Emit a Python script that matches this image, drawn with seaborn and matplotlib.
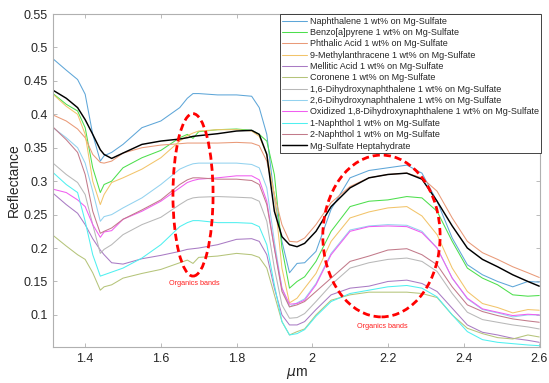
import numpy as np
import pandas as pd
import matplotlib
matplotlib.use("Agg")
import matplotlib.pyplot as plt
import seaborn as sns
from matplotlib.patches import Ellipse

# ---------------- data ----------------
wavelength = [1.315, 1.35, 1.38, 1.40, 1.42, 1.44, 1.45, 1.47, 1.50, 1.55,
              1.60, 1.65, 1.67, 1.685, 1.70, 1.75, 1.80, 1.84, 1.86, 1.88,
              1.90, 1.92, 1.94, 1.96, 1.98, 2.01, 2.05, 2.10, 2.15, 2.20,
              2.25, 2.29, 2.33, 2.37, 2.41, 2.45, 2.49, 2.53, 2.57, 2.60]

naphthalene = [0.483, 0.466, 0.452, 0.43, 0.37, 0.33, 0.338, 0.343, 0.355, 0.38,
               0.39, 0.41, 0.424, 0.431, 0.431, 0.429, 0.429, 0.427, 0.41, 0.37,
               0.275, 0.21, 0.163, 0.177, 0.178, 0.195, 0.258, 0.305, 0.316, 0.32,
               0.324, 0.312, 0.27, 0.215, 0.175, 0.16, 0.15, 0.142, 0.15, 0.149]
benzo_pyrene = [0.431, 0.415, 0.405, 0.38, 0.32, 0.283, 0.295, 0.30, 0.32, 0.335,
                0.346, 0.365, 0.37, 0.364, 0.374, 0.377, 0.378, 0.376, 0.37, 0.36,
                0.31, 0.20, 0.14, 0.15, 0.157, 0.18, 0.225, 0.262, 0.27, 0.272,
                0.277, 0.275, 0.255, 0.21, 0.17, 0.155, 0.145, 0.13, 0.128, 0.129]
phthalic_acid = [0.399, 0.39, 0.378, 0.365, 0.34, 0.328, 0.327, 0.33, 0.342, 0.35,
                 0.354, 0.356, 0.357, 0.357, 0.357, 0.357, 0.358, 0.357, 0.353, 0.33,
                 0.28, 0.235, 0.21, 0.209, 0.215, 0.235, 0.268, 0.292, 0.305, 0.31,
                 0.312, 0.305, 0.285, 0.245, 0.21, 0.193, 0.183, 0.172, 0.163, 0.156]
methylanthracene = [0.43, 0.412, 0.40, 0.37, 0.30, 0.265, 0.28, 0.298, 0.305, 0.318,
                    0.335, 0.36, 0.368, 0.372, 0.375, 0.377, 0.377, 0.375, 0.367, 0.34,
                    0.28, 0.17, 0.118, 0.125, 0.14, 0.162, 0.21, 0.245, 0.254, 0.26,
                    0.262, 0.248, 0.22, 0.17, 0.135, 0.117, 0.111, 0.103, 0.108, 0.107]
mellitic_acid = [0.282, 0.265, 0.252, 0.235, 0.214, 0.197, 0.19, 0.178, 0.176, 0.184,
                 0.189, 0.195, 0.198, 0.199, 0.20, 0.205, 0.213, 0.214, 0.21, 0.19,
                 0.14, 0.10, 0.085, 0.085, 0.09, 0.108, 0.13, 0.14, 0.143, 0.15,
                 0.152, 0.147, 0.135, 0.11, 0.085, 0.074, 0.07, 0.065, 0.062, 0.059]
coronene = [0.219, 0.203, 0.19, 0.183, 0.163, 0.137, 0.142, 0.145, 0.155, 0.162,
            0.168, 0.178, 0.182, 0.177, 0.186, 0.188, 0.192, 0.19, 0.186, 0.17,
            0.13, 0.09, 0.07, 0.075, 0.079, 0.10, 0.122, 0.13, 0.134, 0.134,
            0.134, 0.132, 0.126, 0.10, 0.08, 0.072, 0.066, 0.064, 0.07, 0.067]
dhn_16 = [0.327, 0.31, 0.298, 0.28, 0.235, 0.192, 0.198, 0.205, 0.22, 0.235,
          0.246, 0.265, 0.272, 0.275, 0.276, 0.277, 0.276, 0.275, 0.27, 0.24,
          0.17, 0.115, 0.095, 0.096, 0.102, 0.12, 0.145, 0.17, 0.178, 0.183,
          0.185, 0.18, 0.165, 0.132, 0.104, 0.093, 0.089, 0.085, 0.082, 0.079]
dhn_26 = [0.38, 0.365, 0.35, 0.327, 0.285, 0.24, 0.247, 0.25, 0.26, 0.275,
          0.295, 0.318, 0.323, 0.326, 0.327, 0.327, 0.327, 0.325, 0.32, 0.29,
          0.21, 0.14, 0.112, 0.118, 0.124, 0.147, 0.192, 0.227, 0.233, 0.235,
          0.234, 0.225, 0.20, 0.155, 0.124, 0.108, 0.103, 0.097, 0.10, 0.10]
oxidized_dhn_18 = [0.288, 0.283, 0.272, 0.262, 0.235, 0.216, 0.224, 0.226, 0.243, 0.255,
                   0.27, 0.29, 0.298, 0.301, 0.303, 0.305, 0.308, 0.308, 0.302, 0.27,
                   0.20, 0.14, 0.116, 0.117, 0.122, 0.145, 0.19, 0.225, 0.232, 0.233,
                   0.232, 0.223, 0.20, 0.155, 0.125, 0.109, 0.104, 0.099, 0.101, 0.10]
naphthol_1 = [0.313, 0.295, 0.283, 0.24, 0.19, 0.158, 0.16, 0.164, 0.17, 0.185,
              0.205, 0.232, 0.238, 0.241, 0.241, 0.238, 0.238, 0.237, 0.232, 0.205,
              0.145, 0.09, 0.07, 0.072, 0.078, 0.098, 0.12, 0.132, 0.137, 0.142,
              0.144, 0.14, 0.127, 0.10, 0.075, 0.063, 0.059, 0.057, 0.055, 0.054]
naphthol_2 = [0.381, 0.362, 0.343, 0.31, 0.255, 0.222, 0.225, 0.23, 0.243, 0.257,
              0.272, 0.295, 0.302, 0.305, 0.305, 0.303, 0.303, 0.301, 0.295, 0.265,
              0.20, 0.135, 0.112, 0.115, 0.12, 0.135, 0.155, 0.18, 0.188, 0.197,
              0.199, 0.19, 0.175, 0.142, 0.115, 0.105, 0.099, 0.094, 0.091, 0.089]
mg_sulfate = [0.436, 0.424, 0.41, 0.392, 0.37, 0.347, 0.34, 0.334, 0.342, 0.355,
              0.36, 0.363, 0.365, 0.367, 0.368, 0.371, 0.375, 0.376, 0.37, 0.34,
              0.255, 0.217, 0.205, 0.202, 0.207, 0.225, 0.262, 0.29, 0.305, 0.31,
              0.312, 0.303, 0.27, 0.233, 0.20, 0.183, 0.172, 0.16, 0.15, 0.143]

labels = [
    "Naphthalene 1 wt% on Mg-Sulfate",
    "Benzo[a]pyrene 1 wt% on Mg-Sulfate",
    "Phthalic Acid 1 wt% on Mg-Sulfate",
    "9-Methylanthracene 1 wt% on Mg-Sulfate",
    "Mellitic Acid 1 wt% on Mg-Sulfate",
    "Coronene 1 wt% on Mg-Sulfate",
    "1,6-Dihydroxynaphthalene 1 wt% on Mg-Sulfate",
    "2,6-Dihydroxynaphthalene 1 wt% on Mg-Sulfate",
    "Oxidized 1,8-Dihydroxynaphthalene 1 wt% on Mg-Sulfate",
    "1-Naphthol 1 wt% on Mg-Sulfate",
    "2-Naphthol 1 wt% on Mg-Sulfate",
    "Mg-Sulfate Heptahydrate",
]
series = [naphthalene, benzo_pyrene, phthalic_acid, methylanthracene, mellitic_acid,
          coronene, dhn_16, dhn_26, oxidized_dhn_18, naphthol_1, naphthol_2, mg_sulfate]
colors = ["#5ea6d8", "#4ddf4d", "#e99a78", "#f2c46a", "#a97bc4", "#b5c47a",
          "#b8b8b8", "#93d2ef", "#f05ef0", "#4ff0f0", "#c27a8a", "#000000"]

band_label = "Organics bands"
band_centers = [(1.685, 0.2795), (2.183, 0.218)]
band_sizes = [(0.106, 0.243), (0.31, 0.242)]
band_text_pos = [(1.688, 0.147), (2.185, 0.083)]

# ---------------- plot ----------------
sns.set_theme(style="white")
plt.rcParams["font.family"] = ["Liberation Sans", "DejaVu Sans"]
plt.rcParams["mathtext.fontset"] = "dejavusans"

fig = plt.figure(figsize=(5.49, 3.83), dpi=100)
ax = fig.add_axes([53 / 549, 1 - 347 / 383, (540 - 53) / 549, (347 - 14) / 383])

df = pd.DataFrame({
    "wl": np.tile(wavelength, len(series)),
    "refl": np.concatenate(series),
    "sample": np.repeat(labels, len(wavelength)),
})
for lab, col in zip(labels, colors):
    sub = df[df["sample"] == lab]
    sns.lineplot(data=sub, x="wl", y="refl", ax=ax, color=col,
                 lw=1.05 if col == "#000000" else 0.75, label=lab, sort=False)

for (cx, cy), (w, h) in zip(band_centers, band_sizes):
    ax.add_patch(Ellipse((cx, cy), w, h, fill=False, edgecolor="#ff0000",
                         lw=2.0, ls=(0, (2.6, 1.4)), zorder=5))
for tx, ty in band_text_pos:
    ax.text(tx, ty, band_label, color="#ff2020", fontsize=5.2,
            ha="center", va="center")

ax.set_xlim(1.315, 2.602)
ax.set_ylim(0.052, 0.55)
ax.set_xticks([1.4, 1.6, 1.8, 2.0, 2.2, 2.4, 2.6])
ax.set_xticklabels(["1.4", "1.6", "1.8", "2", "2.2", "2.4", "2.6"])
ax.set_yticks([0.1, 0.15, 0.2, 0.25, 0.3, 0.35, 0.4, 0.45, 0.5, 0.55])
ax.set_yticklabels(["0.1", "0.15", "0.2", "0.25", "0.3", "0.35", "0.4", "0.45", "0.5", "0.55"])
ax.tick_params(direction="in", length=3, width=0.6, colors="#b0b0b0",
               labelcolor="#262626", labelsize=9, top=True, right=True,
               bottom=True, left=True, pad=4)
for s in ax.spines.values():
    s.set_visible(True)
    s.set_color("#b0b0b0")
    s.set_linewidth(0.8)
ax.set_xlabel(r"$\mu$m", fontsize=10, color="#262626", labelpad=1)
ax.set_ylabel("Reflectance", fontsize=10, color="#262626", labelpad=2)

leg = ax.legend(loc="upper right", bbox_to_anchor=(1.003, 1.0), borderaxespad=0,
                fontsize=6.5, frameon=True, fancybox=False, framealpha=1,
                edgecolor="#262626", handlelength=2.8, handletextpad=0.25,
                labelspacing=0.26, borderpad=0.3)
leg.get_frame().set_linewidth(0.6)
for t in leg.get_texts():
    t.set_color("#262626")

fig.savefig("out.png", dpi=100)
